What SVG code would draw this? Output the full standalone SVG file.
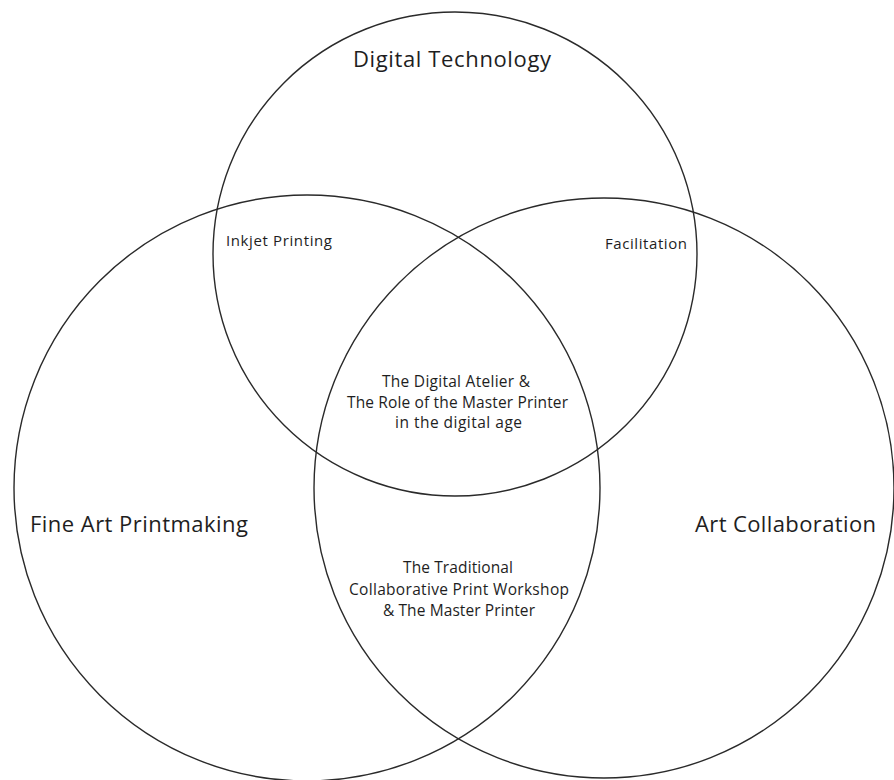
<svg xmlns="http://www.w3.org/2000/svg" width="894" height="780" viewBox="0 0 894 780">
  <style>
    .ring { fill: none; stroke: #2a2a2a; stroke-width: 1.4; }
    .big { font-family: "Open Sans", "Noto Sans", sans-serif; font-size: 22px; fill: #1e1e1e; }
    .small { font-family: "Open Sans", "Noto Sans", sans-serif; font-size: 15px; fill: #1e1e1e; }
    .mid { font-family: "Open Sans", "Noto Sans", sans-serif; font-size: 15.5px; fill: #1e1e1e; }
  </style>
  <rect width="894" height="780" fill="#ffffff"/>

  <!-- three overlapping sets -->
  <g id="digital-technology">
    <circle class="ring" cx="455" cy="254" r="242"/>
    <text class="big" x="353" y="67" textLength="198">Digital Technology</text>
  </g>
  <g id="fine-art-printmaking">
    <circle class="ring" cx="307" cy="488" r="293"/>
    <text class="big" x="30" y="532" textLength="218">Fine Art Printmaking</text>
  </g>
  <g id="art-collaboration">
    <circle class="ring" cx="604" cy="488" r="290"/>
    <text class="big" x="695" y="532" textLength="181">Art Collaboration</text>
  </g>

  <!-- overlap labels -->
  <g id="inkjet-printing">
    <text class="small" x="226" y="246" textLength="106">Inkjet Printing</text>
  </g>
  <g id="facilitation">
    <text class="small" x="605" y="249" textLength="82">Facilitation</text>
  </g>
  <g id="digital-atelier">
    <text class="mid" x="382" y="387" textLength="148">The Digital Atelier &amp;</text>
    <text class="mid" x="347" y="408" textLength="221">The Role of the Master Printer</text>
    <text class="mid" x="395" y="428" textLength="127">in the digital age</text>
  </g>
  <g id="traditional-workshop">
    <text class="mid" x="403" y="573" textLength="110">The Traditional</text>
    <text class="mid" x="349" y="595" textLength="220">Collaborative Print Workshop</text>
    <text class="mid" x="383" y="616" textLength="152">&amp; The Master Printer</text>
  </g>

  <g id="connectors"/>
</svg>
